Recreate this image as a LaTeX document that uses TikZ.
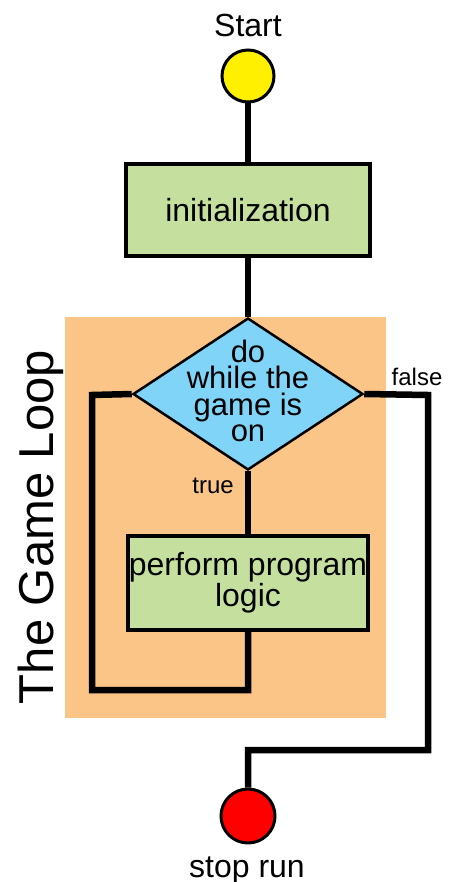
\documentclass[tikz,border=0pt]{standalone}
\usepackage{fontspec}
\setmainfont{Liberation Sans}
\usetikzlibrary{shapes.geometric}
\definecolor{startyellow}{RGB}{255,240,0}
\definecolor{boxgreen}{RGB}{197,224,158}
\definecolor{diablue}{RGB}{128,212,247}
\definecolor{loopbg}{RGB}{250,197,135}
\definecolor{stopred}{RGB}{255,0,0}
\begin{document}
\begin{tikzpicture}[x=1pt,y=-1pt,
  conn/.style={line width=6.5pt,line join=miter},
  procbox/.style={draw=black,line width=4pt,fill=boxgreen,inner sep=0pt,align=center,font=\fontsize{32}{31}\selectfont},
  term/.style={circle,draw=black,line width=3pt,inner sep=0pt,minimum size=52pt},
  bigtxt/.style={font=\fontsize{32}{31}\selectfont,inner sep=0pt},
  smalltxt/.style={font=\fontsize{24}{24}\selectfont,inner sep=0pt}]
\useasboundingbox (0,0) rectangle (457,882);
\fill[white] (0,0) rectangle (457,882);
% background of the loop
\fill[loopbg] (65,317) rectangle (386,718);
\node[rotate=90,anchor=base,font=\fontsize{49}{49}\selectfont,inner sep=0pt] (title) at (53,527) {The Game Loop};
% nodes
\node[bigtxt,anchor=base] (starttxt) at (248,37) {Start};
\node[term,fill=startyellow] (start) at (248,76) {};
\node[procbox,minimum width=244pt,minimum height=92pt] (init) at (248,210) {initialization};
\node[diamond,draw=black,line width=2.5pt,fill=diablue,inner sep=0pt,minimum width=230pt,minimum height=152pt] (dec) at (248,394) {};
\node[font=\fontsize{31}{26.5}\selectfont,align=center,inner sep=0pt] (dectxt) at (248,391) {do\\while the\\game is\\on};
\node[procbox,minimum width=240pt,minimum height=94pt] (perf) at (248,583) {perform program\\logic};
\node[term,fill=stopred,minimum size=54pt] (stop) at (248,816) {};
\node[bigtxt,anchor=base] (stoptxt) at (247,877) {stop run};
% corner coordinates
\coordinate (lb) at (92,690);
\coordinate (lt) at (92,395);
\coordinate (rt) at (428,395);
\coordinate (rb) at (428,750);
\coordinate (sb) at (248,750);
\coordinate (pb) at (248,690);
% connectors
\draw[conn] (start.south) -- (init.north);
\draw[conn] (init.south) -- (dec.north);
\draw[conn] (dec.south) -- (perf.north);
\draw[conn] (perf.south) -- (pb) -- (lb) -- (lt) -- (dec.west);
\draw[conn] (dec.east) -- (rt) -- (rb) -- (sb) -- (stop.north);
\node[smalltxt,anchor=base east] (truelbl) at (234,493) {true};
\node[smalltxt,anchor=base] (falselbl) at (417,385) {false};
\end{tikzpicture}
\end{document}
